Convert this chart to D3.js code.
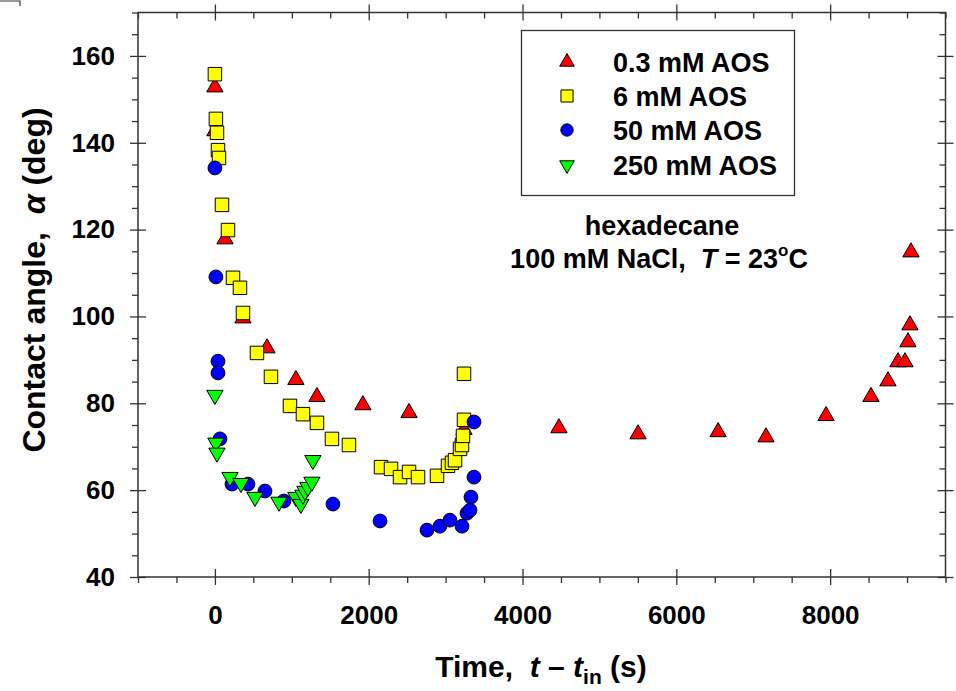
<!DOCTYPE html>
<html>
<head>
<meta charset="utf-8">
<script src="https://cdn.jsdelivr.net/npm/d3@7"></script>
<style>
  body { margin: 0; background: #fff; }
  text { font-family: "Liberation Sans", Arial, sans-serif; font-weight: bold; fill: #000; }
</style>
</head>
<body>
<div id="chart"></div>
<script>
// data: [time (s), contact angle (deg)]
const aos03 = [[0,152.8],[0,142.7],[131,117.8],[365,99.6],[677,92.7],[1053,85.4],[1327,81.5],[1924,79.6],[2524,77.8],[3239,73.9],[4473,74.3],[5502,72.9],[6543,73.4],[7166,72.2],[7947,77.1],[8531,81.5],[8752,85.1],[8882,89.5],[8973,89.5],[9012,94.1],[9038,98.0],[9051,114.8]];
const aos6 = [[0,155.8],[13,145.5],[27,142.3],[40,138.3],[53,136.5],[92,125.7],[170,119.9],[235,108.9],[326,106.6],[365,100.8],[547,91.6],[729,86.1],[976,79.4],[1145,77.5],[1327,75.5],[1522,71.8],[1743,70.4],[2160,65.3],[2290,64.9],[2407,63.0],[2524,64.2],[2641,63.0],[2888,63.3],[3031,65.6],[3083,66.3],[3122,66.9],[3187,69.5],[3213,70.4],[3226,72.5],[3239,76.2],[3239,86.8]];
const aos50 = [[0,134.2],[13,109.1],[40,89.7],[40,87.0],[66,71.8],[222,61.4],[430,61.4],[651,59.8],[898,57.5],[1535,56.8],[2147,52.9],[2758,50.8],[2926,51.7],[3056,53.1],[3213,51.7],[3278,54.7],[3317,55.4],[3330,58.4],[3369,63.0],[3369,75.7]];
const aos250 = [[0,81.9],[13,70.9],[27,68.6],[196,63.0],[339,61.6],[521,58.4],[833,57.3],[1053,58.4],[1118,56.8],[1144,58.9],[1170,59.8],[1209,60.7],[1261,61.9],[1274,66.9]];

const seriesNames = ['0.3 mM AOS', '6 mM AOS', '50 mM AOS', '250 mM AOS'];
const xMajor = [0, 2000, 4000, 6000, 8000];
const yMajor = [40, 60, 80, 100, 120, 140, 160];

// svg
const svgWidth = 956, svgHeight = 691;
const svg = d3.select('#chart').append('svg')
  .attr('width', svgWidth)
  .attr('height', svgHeight);

const x = d3.scaleLinear().domain([-1000, 9500]).range([138, 945.5]);
const y = d3.scaleLinear().domain([40, 170]).range([577, 12.5]);

const xMinor = d3.range(-1000, 9501, 500).filter(v => v % 2000 !== 0);
const yMinor = d3.range(40, 171, 5).filter(v => v % 20 !== 0);

// frame
svg.append('rect')
  .attr('x', x.range()[0]).attr('y', y.range()[1])
  .attr('width', x.range()[1] - x.range()[0])
  .attr('height', y.range()[0] - y.range()[1])
  .attr('fill', 'none').attr('stroke', '#333').attr('stroke-width', 1.5);

// stray corner mark top-left
svg.append('path').attr('d', 'M0,1H20V6').attr('fill', 'none').attr('stroke', '#333').attr('stroke-width', 1.2);

function styleAxis(g) {
  g.select('.domain').remove();
  g.selectAll('line').attr('stroke', '#333').attr('stroke-width', 1.3);
}

// bottom
svg.append('g').attr('transform', `translate(0,${y.range()[0]})`)
  .call(d3.axisBottom(x).tickValues(xMinor).tickSize(6).tickFormat(''))
  .call(styleAxis);
const xb = svg.append('g').attr('transform', `translate(0,${y.range()[0]})`)
  .call(d3.axisBottom(x).tickValues(xMajor).tickSize(8).tickPadding(21).tickFormat(d3.format('d')))
  .call(styleAxis);
xb.selectAll('line').attr('y1', -8);
xb.selectAll('text').attr('font-size', 26).attr('font-family', null);

// top
svg.append('g').attr('transform', `translate(0,${y.range()[1]})`)
  .call(d3.axisTop(x).tickValues(xMinor).tickSize(-6).tickFormat(''))
  .call(styleAxis);
svg.append('g').attr('transform', `translate(0,${y.range()[1]})`)
  .call(d3.axisTop(x).tickValues(xMajor).tickSize(8).tickFormat(''))
  .call(styleAxis)
  .selectAll('line').attr('y1', 8);

// left
svg.append('g').attr('transform', `translate(${x.range()[0]},0)`)
  .call(d3.axisLeft(y).tickValues(yMinor).tickSize(6).tickFormat(''))
  .call(styleAxis);
const yl = svg.append('g').attr('transform', `translate(${x.range()[0]},0)`)
  .call(d3.axisLeft(y).tickValues(yMajor).tickSize(8).tickPadding(15))
  .call(styleAxis);
yl.selectAll('line').attr('x1', 8);
yl.selectAll('text').attr('font-size', 26).attr('font-family', null);

// right
svg.append('g').attr('transform', `translate(${x.range()[1]},0)`)
  .call(d3.axisRight(y).tickValues(yMinor).tickSize(-6).tickFormat(''))
  .call(styleAxis);
svg.append('g').attr('transform', `translate(${x.range()[1]},0)`)
  .call(d3.axisRight(y).tickValues(yMajor).tickSize(8).tickFormat(''))
  .call(styleAxis)
  .selectAll('line').attr('x1', -8);

// axis titles
const xt = svg.append('text')
  .attr('x', 541).attr('y', 677)
  .attr('text-anchor', 'middle').attr('font-size', 30);
xt.append('tspan').text('Time,\u00a0\u00a0');
xt.append('tspan').attr('font-style', 'italic').text('t');
xt.append('tspan').text(' \u2013 ');
xt.append('tspan').attr('font-style', 'italic').text('t');
xt.append('tspan').attr('font-size', 21).attr('dy', 7).text('in');
xt.append('tspan').attr('dy', -7).text(' (s)');

const yt = svg.append('text')
  .attr('transform', 'translate(45,280) rotate(-90)')
  .attr('text-anchor', 'middle').attr('font-size', 32);
yt.append('tspan').text('Contact angle,\u00a0 ');
yt.append('tspan').attr('font-style', 'italic').text('\u03b1');
yt.append('tspan').text('\u00a0(deg)');

// annotation
svg.append('text').attr('x', 662).attr('y', 235)
  .attr('text-anchor', 'middle').attr('font-size', 27).text('hexadecane');
const an = svg.append('text').attr('x', 659).attr('y', 268)
  .attr('text-anchor', 'middle').attr('font-size', 27);
an.append('tspan').text('100 mM NaCl,\u00a0\u00a0');
an.append('tspan').attr('font-style', 'italic').text('T');
an.append('tspan').text(' = 23');
an.append('tspan').attr('font-size', 17).attr('dy', -12).text('o');
an.append('tspan').attr('dy', 12).text('C');

// markers
const sym = [
  { data: aos03, type: d3.symbolTriangle, size: 115, fill: '#ff0000', rot: 0 },
  { data: aos6, type: d3.symbolSquare, size: 182, fill: '#ffff00', rot: 0 },
  { data: aos50, type: d3.symbolCircle, size: 150, fill: '#0000ff', rot: 0 },
  { data: aos250, type: d3.symbolTriangle, size: 115, fill: '#00ff00', rot: 180 }
];

sym.forEach(s => {
  svg.append('g').selectAll('path')
    .data(s.data)
    .join('path')
    .attr('d', d3.symbol().type(s.type).size(s.size))
    .attr('transform', d => `translate(${x(d[0])},${y(d[1])}) rotate(${s.rot})`)
    .attr('fill', s.fill)
    .attr('stroke', '#000')
    .attr('stroke-width', 1);
});

// legend
const lg = svg.append('g');
lg.append('rect')
  .attr('x', 521.5).attr('y', 30.5).attr('width', 273).attr('height', 165)
  .attr('fill', '#fff').attr('stroke', '#333').attr('stroke-width', 1.3);
const rows = [62, 96, 130, 165];
sym.forEach((s, i) => {
  lg.append('path')
    .attr('d', d3.symbol().type(s.type).size(s.size * 0.8))
    .attr('transform', `translate(567,${rows[i]}) rotate(${s.rot})`)
    .attr('fill', s.fill).attr('stroke', '#000').attr('stroke-width', 1);
  lg.append('text')
    .attr('x', 613).attr('y', rows[i] + 9.5)
    .attr('font-size', 27)
    .text(seriesNames[i]);
});
</script>
</body>
</html>
